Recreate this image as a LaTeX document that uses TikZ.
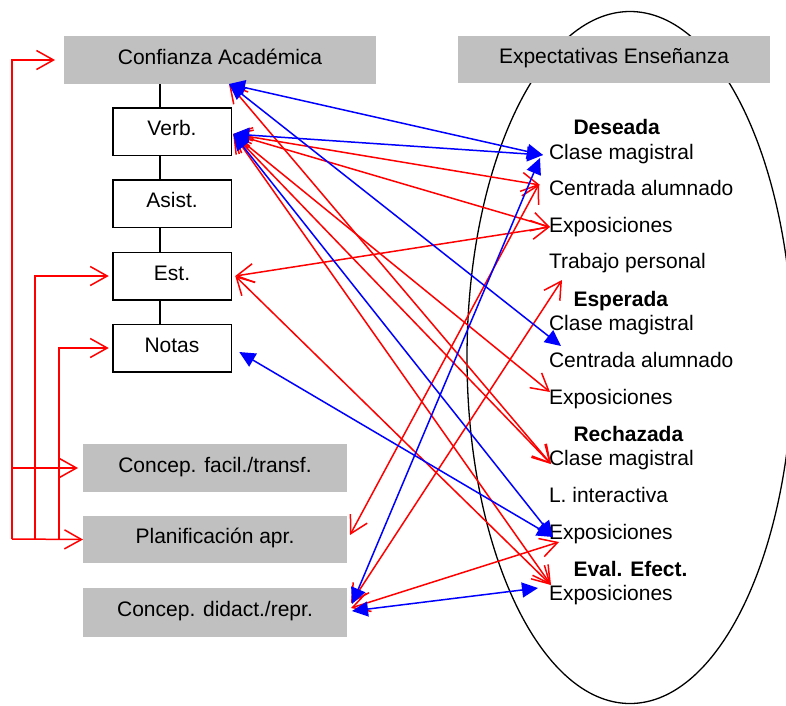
\documentclass[tikz,border=0pt]{standalone}
\usepackage{fontspec}
\setmainfont{Liberation Sans}
\usetikzlibrary{arrows.meta}

\definecolor{boxgray}{HTML}{C0C0C0}
\definecolor{linkred}{HTML}{FF0000}
\definecolor{linkblue}{HTML}{0000FF}

\begin{document}
\begin{tikzpicture}[x=1pt,y=-1pt,
  every node/.style={font=\fontsize{21}{25}\selectfont, inner sep=0pt, outer sep=0pt},
  graybox/.style={fill=boxgray, text height=13pt, text depth=5pt},
  wbox/.style={draw, line width=1.5pt, minimum width=118.5pt, minimum height=47.5pt,
    text height=13pt, text depth=5pt},
  lbl/.style={anchor=base west},
  hdr/.style={anchor=base west, font=\fontsize{21}{25}\selectfont\bfseries},
  redlink/.style={draw=linkred, line width=1.5pt,
    >={Straight Barb[length=17pt,width=19pt]}, <->},
  bluelink/.style={draw=linkblue, line width=1.5pt,
    >={Triangle[length=16pt,width=15pt]}, <->},
  bus/.style={draw=linkred, line width=1.5pt,
    -{Straight Barb[length=17pt,width=19pt]}},
  spine/.style={draw, line width=1.3pt},
]
\useasboundingbox (0,0) rectangle (786,705);
\fill[white] (0,0) rectangle (786,705);

% the large ellipse around the teaching expectations
\begin{scope}
  \clip (0,0) rectangle (786,705);
  \draw[line width=1.3pt] (630,357.5) ellipse [x radius=163pt, y radius=346pt];
\end{scope}

% header boxes
\node[graybox, minimum width=312pt, minimum height=48pt] (conf) at (220,60) {Confianza Académica};
\node[graybox, minimum width=312pt, minimum height=47pt] (expect) at (614,59.5) {Expectativas Enseñanza};

% confidence components
\node[wbox] (verb)  at (172,131.5) {Verb.};
\node[wbox] (asist) at (172,203.5) {Asist.};
\node[wbox] (est)   at (172,276)   {Est.};
\node[wbox] (notas) at (172,348)   {Notas};

% vertical spine joining the components
\coordinate (spineTop) at ([xshift=-12pt]verb.north |- conf.south);
\draw[spine] (spineTop) -- ([xshift=-12pt]verb.north);
\draw[spine] ([xshift=-12pt]verb.south)  -- ([xshift=-12pt]asist.north);
\draw[spine] ([xshift=-12pt]asist.south) -- ([xshift=-12pt]est.north);
\draw[spine] ([xshift=-12pt]est.south)   -- ([xshift=-12pt]notas.north);

% conception boxes
\node[graybox, minimum width=264pt, minimum height=48pt] (facil)  at (215,468)   {Concep. facil./transf.};
\node[graybox, minimum width=264pt, minimum height=47pt] (plan)   at (215,539.5) {Planificación apr.};
\node[graybox, minimum width=264pt, minimum height=49pt] (didact) at (215,612.5) {Concep. didact./repr.};

% feedback bus on the left
\coordinate (busA) at (12,539);
\coordinate (busB) at (35,539);
\coordinate (busC) at (59,539);
\coordinate (busD) at (12,468);
\draw[bus, shorten >=9pt] (busA) |- (conf.west);
\draw[bus, shorten >=4pt] (busB) |- (est.west);
\draw[bus, shorten >=4pt] (busC) |- (notas.west);
\draw[bus, shorten >=5pt] (busD) -- (facil.west);
\draw[bus] (busA) -- (plan.west);

% expectation labels
\node[hdr] (hDes)  at (573.5,134) {Deseada};
\node[lbl] (dCM)   at (549,159)   {Clase magistral};
\node[lbl] (dCA)   at (549,195)   {Centrada alumnado};
\node[lbl] (dEx)   at (549,232)   {Exposiciones};
\node[lbl] (dTP)   at (549,268)   {Trabajo personal};
\node[hdr] (hEsp)  at (573.5,306) {Esperada};
\node[lbl] (eCM)   at (549,330)   {Clase magistral};
\node[lbl] (eCA)   at (549,367)   {Centrada alumnado};
\node[lbl] (eEx)   at (549,404)   {Exposiciones};
\node[hdr] (hRech) at (573.5,441) {Rechazada};
\node[lbl] (rCM)   at (549,465)   {Clase magistral};
\node[lbl] (rLI)   at (549,502)   {L. interactiva};
\node[lbl] (rEx)   at (549,539)   {Exposiciones};
\node[hdr] (hEval) at (573.5,576) {Eval. Efect.};
\node[lbl] (vEx)   at (549,600)   {Exposiciones};

% red links
\draw[redlink] ([shift={(2,2.5)}]verb.east)   -- ([shift={(-9,-10)}]dCA.base west);
\draw[redlink] ([shift={(2,2.5)}]verb.east)   -- ([shift={(1,-5)}]dEx.base west);
\draw[redlink] ([shift={(4,0)}]est.east)      -- ([shift={(1,-5)}]dEx.base west);
\draw[redlink] ([shift={(3,-4.5)}]plan.east)  -- ([shift={(-10,-11)}]dCA.base west);
\draw[redlink] ([shift={(4,-9.5)}]didact.east) -- ([shift={(13,12)}]dTP.base west);
\draw[redlink] ([shift={(2,2.5)}]verb.east)   -- ([shift={(1,-12)}]eEx.base west);
\draw[redlink] ([shift={(2,2.5)}]verb.east)   -- ([shift={(2,-1)}]rCM.base west);
\draw[redlink] ([shift={(9,0)}]conf.south)    -- ([shift={(2,-1)}]rCM.base west);
\draw[redlink] ([shift={(2,2.5)}]verb.east)   -- ([shift={(2,-15)}]vEx.base west);
\draw[redlink] ([shift={(4,0)}]est.east)      -- ([shift={(2,-15)}]vEx.base west);
\draw[redlink] ([shift={(4,-4.5)}]didact.east) -- ([shift={(10,3)}]rEx.base west);

% blue links
\draw[bluelink] ([shift={(9,0)}]conf.south)   -- ([shift={(-6,-4)}]dCM.base west);
\draw[bluelink] ([shift={(2,2.5)}]verb.east)  -- ([shift={(-6,-4)}]dCM.base west);
\draw[bluelink] ([shift={(9,0)}]conf.south)   -- ([shift={(12,16)}]eCM.base west);
\draw[bluelink] ([shift={(2,2.5)}]verb.east)  -- ([shift={(4,-2)}]rEx.base west);
\draw[bluelink] ([shift={(8,4)}]notas.east)   -- ([shift={(4,-2)}]rEx.base west);
\draw[bluelink] ([shift={(5,-8.5)}]didact.east) -- ([shift={(-9,-1)}]dCM.base west);
\draw[bluelink] ([shift={(5,-1.5)}]didact.east) -- ([shift={(-11,-12)}]vEx.base west);
\end{tikzpicture}
\end{document}
